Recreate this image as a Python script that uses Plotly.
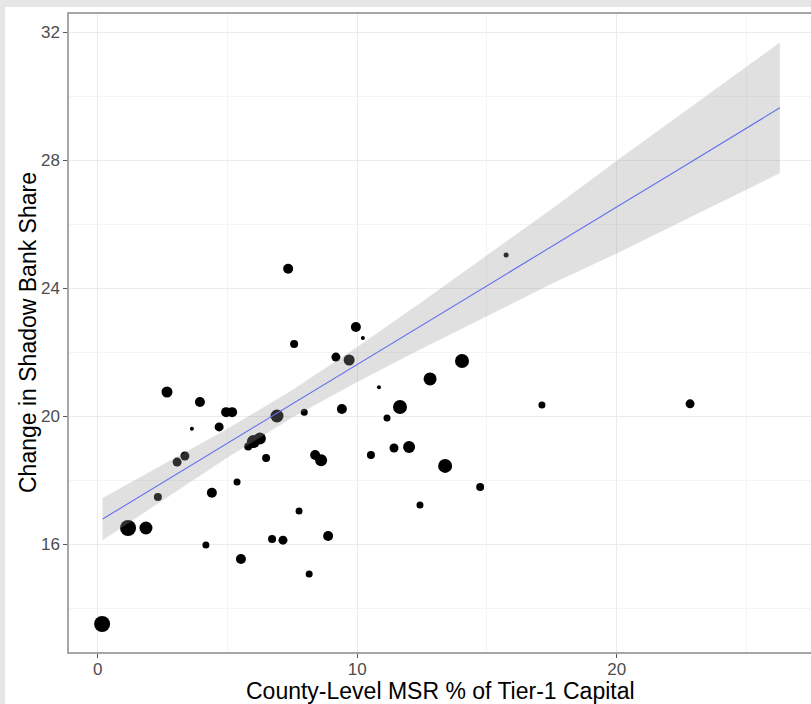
import plotly.graph_objects as go

# County-level data
msr_pct = [0.17, 1.17, 1.86, 2.32, 2.67, 3.06, 3.36, 3.63, 3.94, 4.17,
           4.40, 4.68, 4.95, 5.18, 5.37, 5.52, 5.80, 6.00, 6.25, 6.49,
           6.72, 6.91, 7.14, 7.34, 7.57, 7.76, 7.96, 8.15, 8.38, 8.61,
           8.88, 9.18, 9.69, 9.95, 10.22, 9.41, 10.53, 10.84, 11.15, 11.42,
           11.65, 12.00, 12.42, 12.81, 13.39, 14.04, 14.74, 15.74, 17.12, 22.83]
shadow_change = [13.50, 16.50, 16.50, 17.47, 20.75, 18.56, 18.75, 19.60, 20.44, 15.97,
                 17.60, 19.66, 20.12, 20.12, 17.94, 15.53, 19.05, 19.20, 19.30, 18.69,
                 16.16, 20.00, 16.12, 24.60, 22.25, 17.03, 20.12, 15.06, 18.78, 18.62,
                 16.25, 21.84, 21.75, 22.78, 22.44, 20.22, 18.78, 20.90, 19.94, 19.00,
                 20.28, 19.03, 17.22, 21.16, 18.44, 21.72, 17.78, 25.03, 20.34, 20.38]
point_size = [16, 16, 13, 8, 11, 9, 9, 4, 10, 7,
              10, 9, 10, 10, 7, 10, 8, 13, 12, 8,
              8, 13, 9, 10, 8, 7, 7, 7, 10, 12,
              10, 9, 11, 10, 4, 10, 8, 4, 7, 9,
              14, 12, 7, 13, 14, 14, 8, 5, 7, 9]

# Linear fit and its confidence band
fit_x = [0.19, 2.5, 5, 7.5, 10, 12.5, 15, 17.5, 20, 22.5, 25, 26.29]
fit_y = [16.78, 17.92, 19.15, 20.38, 21.61, 22.84, 24.07, 25.30, 26.53, 27.76, 28.99, 29.63]
band_lo = [16.12, 17.37, 18.70, 19.95, 21.06, 22.11, 23.12, 24.13, 25.08, 26.08, 27.07, 27.59]
band_hi = [17.44, 18.47, 19.60, 20.81, 22.16, 23.57, 25.02, 26.47, 27.98, 29.44, 30.91, 31.67]

x_ticks = [0, 10, 20]
y_ticks = [16, 20, 24, 28, 32]
x_title = "County-Level MSR % of Tier-1 Capital"
y_title = "Change in Shadow Bank Share"

fig = go.Figure()
fig.add_trace(go.Scatter(
    x=msr_pct, y=shadow_change, mode="markers",
    marker=dict(size=point_size, color="black", opacity=1, line=dict(width=0)),
    showlegend=False, hoverinfo="x+y"))
fig.add_trace(go.Scatter(
    x=fit_x + fit_x[::-1], y=band_hi + band_lo[::-1],
    mode="lines", fill="toself", fillcolor="rgba(153,153,153,0.3)",
    line=dict(width=0), showlegend=False, hoverinfo="skip"))
fig.add_trace(go.Scatter(
    x=fit_x, y=fit_y, mode="lines",
    line=dict(color="#6470EE", width=1.1), showlegend=False))

L, R, T, B = 69, 0, 14, 52
W, H = 811, 704
pw, ph = W - L - R, H - T - B
fig.add_shape(type="rect", xref="paper", yref="paper",
              x0=(5 - L) / pw, x1=1.05, y0=-(H - B) / ph - 0.01, y1=1 + (T - 7) / ph,
              fillcolor="white", line=dict(width=0), layer="below")

axis_common = dict(
    automargin=False,
    showline=True, linecolor="#a6a6a6", linewidth=1.5,
    ticks="outside", ticklen=4, tickcolor="#555555", tickwidth=1,
    tickfont=dict(family="Liberation Sans, Arial", size=17, color="#4d4d4d"),
    showgrid=True, gridcolor="#ebebeb", gridwidth=1,
    zeroline=False,
)
fig.update_xaxes(**axis_common, range=[-1.106, 27.49], tickvals=x_ticks,
                 mirror=True, ticklabelstandoff=-3,
                 minor=dict(tickvals=[5, 15, 25], showgrid=True, gridcolor="#f4f4f4", gridwidth=1, ticks=""))
fig.update_yaxes(**axis_common, range=[12.625, 32.5625], tickvals=y_ticks,
                 minor=dict(tickvals=[14, 18, 22, 26, 30], showgrid=True, gridcolor="#f4f4f4", gridwidth=1, ticks=""))

title_font = dict(family="Liberation Sans, Arial", size=23, color="black")
fig.add_annotation(text=x_title, xref="paper", yref="paper",
                   x=0.5, y=-(691 - (H - B)) / ph, xanchor="center", yanchor="middle",
                   showarrow=False, font=title_font)
fig.add_annotation(text=y_title, xref="paper", yref="paper",
                   x=(28 - L) / pw, y=0.5, xanchor="center", yanchor="middle",
                   textangle=-90, showarrow=False, font=title_font)
fig.update_layout(
    width=W, height=H,
    margin=dict(l=L, r=R, t=T, b=B),
    paper_bgcolor="#e6e6e6", plot_bgcolor="white",
    showlegend=False,
)
fig.write_html(
    "out.html",
    config={"displayModeBar": False},
    post_script="document.body.style.margin='0';document.body.style.overflow='hidden';"
                "document.body.style.background='#e6e6e6';",
)
